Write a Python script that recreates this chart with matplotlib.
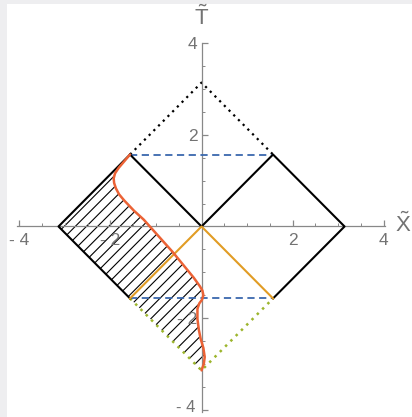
import numpy as np
import matplotlib
matplotlib.use("Agg")
import matplotlib.pyplot as plt
from matplotlib.path import Path
from matplotlib.patches import PathPatch

plt.rcParams["mathtext.fontset"] = "custom"
plt.rcParams["mathtext.rm"] = "Liberation Sans"

PI = np.pi

# Boundary curve of the shaded region (x, y), traced from top to bottom
curve_x = [-1.571, -1.70, -1.82, -1.90, -1.93, -1.92, -1.88, -1.81, -1.70, -1.49,
           -1.27, -0.64, -0.17, -0.04, 0.02, 0.04, 0.01, -0.05, -0.09, -0.09,
           -0.06, -0.02, 0.04, 0.07, 0.05, 0.0]
curve_y = [1.571, 1.42, 1.28, 1.16, 1.05, 0.95, 0.83, 0.70, 0.57, 0.35,
           0.15, -0.55, -1.12, -1.30, -1.40, -1.50, -1.60, -1.68, -1.80, -2.02,
           -2.25, -2.45, -2.65, -2.85, -3.00, -3.1416]

# Diamond geometry
half = PI / 2
tick_major = [-4, -2, 2, 4]
tick_labels = ["- 4", "- 2", "2", "4"]
tick_minor = [-3.5, -3, -2.5, -1.5, -1, -0.5, 0.5, 1, 1.5, 2.5, 3, 3.5]
hatch_start = 3.02
hatch_step = 0.245

W, H = 412, 417
fig = plt.figure(figsize=(W / 100, H / 100), dpi=100)
fig.patch.set_facecolor("#eeeef0")
# white panel, leaving the grey strip on top and left
bg = plt.Rectangle((7 / W, 0), 1, 1 - 4 / H, transform=fig.transFigure,
                   facecolor="white", edgecolor="none", zorder=-10)
fig.patches.append(bg)

x0, x1 = -4.06, 4.03
y0, y1 = -4.05, 4.01
px_left, px_right = 16.7, 385.0
py_top, py_bot = 42.8, 412.0
ax = fig.add_axes([px_left / W, 1 - py_bot / H, (px_right - px_left) / W, (py_bot - py_top) / H])
ax.set_xlim(x0, x1)
ax.set_ylim(y0, y1)
ax.patch.set_alpha(0)

axis_col = "#888888"
label_col = "#737373"
for s in ["top", "right"]:
    ax.spines[s].set_visible(False)
ax.spines["left"].set_position(("data", 0))
ax.spines["bottom"].set_position(("data", 0))
for s in ["left", "bottom"]:
    ax.spines[s].set_color(axis_col)
    ax.spines[s].set_linewidth(0.9)

ax.set_xticks(tick_major)
ax.set_xticklabels(tick_labels)
ax.set_yticks(tick_major)
# lowest y label is placed by hand so it sits inside the bottom edge
ax.set_yticklabels([""] + tick_labels[1:])
ax.set_xticks(tick_minor, minor=True)
ax.set_yticks(tick_minor, minor=True)
ax.tick_params(which="major", direction="in", length=4, width=0.9, color=axis_col,
               labelcolor=label_col, labelsize=12.5)
ax.tick_params(axis="x", which="major", pad=4.5)
ax.tick_params(axis="y", which="major", pad=3)
ax.tick_params(which="minor", direction="in", length=2.5, width=0.7, color=axis_col)
for lab in ax.get_xticklabels() + ax.get_yticklabels():
    lab.set_family("Liberation Sans")
ax.annotate(tick_labels[0], xy=(0, tick_major[0]), xytext=(-4.2, -3.8),
            textcoords="offset points", ha="right", va="bottom",
            fontsize=12, color=label_col, family="Liberation Sans", annotation_clip=False)

# hatched region: left edges of the diamond down to the bottom vertex, back up the curve
reg_x = [-half, -PI, -half, 0.0] + curve_x[::-1]
reg_y = [half, 0.0, -half, -PI] + curve_y[::-1]
region = Path(np.column_stack([reg_x, reg_y]), closed=False)
clip = PathPatch(region, facecolor="none", edgecolor="none", transform=ax.transData)
ax.add_patch(clip)
cs = np.arange(-hatch_start, PI + 0.3, hatch_step)
for c in cs:
    # line x - y = c  ->  y = x - c
    xs = np.array([-4.0, 4.0])
    ln, = ax.plot(xs, xs - c, color="black", lw=0.8, zorder=1)
    ln.set_clip_path(clip)

# dotted upper cone
ax.plot([-half, 0, half], [half, PI, half], color="black", lw=1.6, ls=(0, (1, 2)), zorder=2)
# dotted lower cone
ax.plot([-half, 0, half], [-half, -PI, -half], color="#9cb52c", lw=1.8, ls=(0, (1, 2)), zorder=2)
# dashed horizontals
ax.plot([-half, half], [half, half], color="#3a68ae", lw=1.3, ls=(0, (4, 2.5)), zorder=3)
ax.plot([-half, half], [-half, -half], color="#3a68ae", lw=1.3, ls=(0, (4, 2.5)), zorder=3)
# solid black edges
ax.plot([-half, -PI, -half], [half, 0, -half], color="black", lw=1.5, zorder=3)
ax.plot([-half, 0, half, PI, half], [half, 0, half, 0, -half], color="black", lw=1.5, zorder=3)
# orange lower wedge
ax.plot([-half, 0, half], [-half, 0, -half], color="#e19c24", lw=1.5, zorder=3)
# boundary curve
ax.plot(curve_x, curve_y, color="#eb6235", lw=1.8, zorder=4, solid_capstyle="round")

fig.text(201.5 / W, 1 - 17 / H, r"$\tilde{\mathrm{T}}$", ha="center", va="center", fontsize=16,
         color=label_col)
fig.text(403 / W, 1 - 224 / H, r"$\tilde{\mathrm{X}}$", ha="center", va="center", fontsize=16,
         color=label_col)

fig.savefig("out.png", dpi=100, facecolor=fig.get_facecolor())
